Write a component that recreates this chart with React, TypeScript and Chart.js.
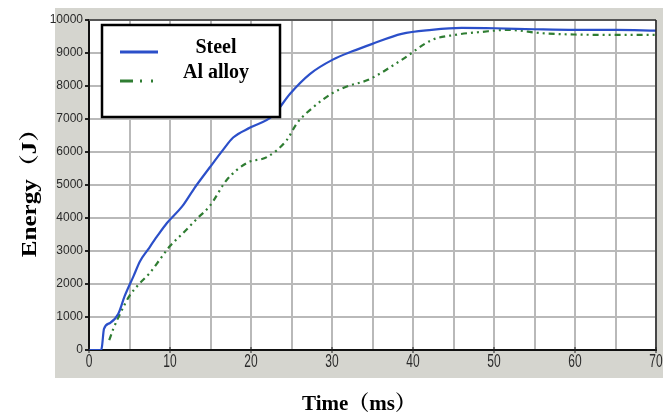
import React, { useEffect, useRef } from "react";
import { Chart, registerables } from "chart.js";

Chart.register(...registerables);

const steelTime = [0, 1.5, 1.6, 1.85, 2.6, 3.6, 4.4, 5.5, 6.3, 7.3, 8.4, 9.6, 11.5, 13, 14.9, 16.5, 17.8, 19.9, 22.7, 24.8, 27.3, 30.1, 32.5, 34.9, 38.6, 42.3, 46, 50.1, 55, 60, 65, 70];
const steelEnergy = [0, 0, 100, 640, 820, 1090, 1630, 2240, 2690, 3050, 3440, 3840, 4350, 4900, 5530, 6050, 6440, 6740, 7100, 7760, 8370, 8800, 9050, 9270, 9580, 9700, 9760, 9750, 9720, 9700, 9700, 9680];

const alTime = [2.5, 3.0, 4.0, 5.0, 6.3, 7.5, 8.8, 10, 11.6, 13.3, 14.9, 17, 19.5, 22, 24.4, 25.7, 27.7, 30.1, 32, 34.4, 38.6, 42.3, 45.2, 48.5, 51.7, 55.9, 60, 65, 70];
const alEnergy = [300, 640, 1180, 1640, 2030, 2330, 2760, 3150, 3540, 3970, 4360, 5150, 5670, 5850, 6360, 6880, 7360, 7790, 8000, 8180, 8790, 9390, 9550, 9640, 9700, 9600, 9560, 9550, 9550];

const seriesLabels = ["Steel", "Al alloy"];
const xTitle = "Time（ms）";
const yTitle = "Energy（J）";

const TICK_FONT = '"Liberation Sans Narrow", "Arial Narrow", sans-serif';
const SERIF = '"Liberation Serif", "Times New Roman", "Noto Serif CJK SC", "Noto Sans CJK SC", serif';

const legendDashes = [[], [13, 7, 2, 9, 2, 9]];

const decorPlugin = {
  id: "decor",
  beforeDraw(chart: any) {
    const { ctx, chartArea: a } = chart;
    ctx.save();
    ctx.fillStyle = "#ffffff";
    ctx.fillRect(0, 0, chart.width, chart.height);
    ctx.fillStyle = "#d5d5cf";
    ctx.fillRect(55, 8, 608, 370);
    ctx.fillStyle = "#ffffff";
    ctx.fillRect(a.left, a.top, a.right - a.left, a.bottom - a.top);
    ctx.restore();
  },
  afterDatasetsDraw(chart: any) {
    const { ctx, chartArea: a } = chart;
    ctx.save();
    ctx.strokeStyle = "#555555";
    ctx.lineWidth = 2;
    ctx.beginPath();
    ctx.moveTo(a.left, a.top);
    ctx.lineTo(a.right, a.top);
    ctx.stroke();
    ctx.strokeStyle = "#222222";
    ctx.lineWidth = 1.5;
    ctx.beginPath();
    ctx.moveTo(a.right, a.top);
    ctx.lineTo(a.right, a.bottom);
    ctx.stroke();
    ctx.restore();
  },
  afterDraw(chart: any) {
    const { ctx, chartArea: a } = chart;
    const xs = chart.scales.x;
    ctx.save();
    ctx.fillStyle = "#2a2a2a";
    ctx.font = `12px ${TICK_FONT}`;
    ctx.textAlign = "center";
    ctx.textBaseline = "middle";
    xs.ticks.forEach((t: any) => {
      if (t.value % 10 !== 0) return;
      const px = xs.getPixelForValue(t.value);
      ctx.save();
      ctx.translate(px, 362);
      ctx.scale(1, 1.6);
      ctx.fillText(String(t.value), 0, 0);
      ctx.restore();
      ctx.strokeStyle = "#222";
      ctx.lineWidth = 1;
      ctx.beginPath();
      ctx.moveTo(px, a.bottom - 3);
      ctx.lineTo(px, a.bottom + 3);
      ctx.stroke();
    });

    // legend
    const bx = 102, by = 25, bw = 178, bh = 92;
    ctx.fillStyle = "#ffffff";
    ctx.fillRect(bx, by, bw, bh);
    ctx.strokeStyle = "#000000";
    ctx.lineWidth = 2.5;
    ctx.strokeRect(bx, by, bw, bh);
    const ds = chart.data.datasets;
    const rows = [52, 81];
    const textRows = [48, 73];
    ds.forEach((d: any, i: number) => {
      ctx.strokeStyle = d.borderColor;
      ctx.lineWidth = 3;
      ctx.setLineDash(legendDashes[i]);
      ctx.beginPath();
      ctx.moveTo(120, rows[i]);
      ctx.lineTo(158, rows[i]);
      ctx.stroke();
      ctx.setLineDash([]);
      ctx.fillStyle = "#000000";
      ctx.font = `bold 20px ${SERIF}`;
      ctx.textAlign = "center";
      ctx.textBaseline = "middle";
      ctx.fillText(d.label, 216, textRows[i]);
    });

    // axis titles
    ctx.fillStyle = "#000000";
    ctx.font = `bold 21px ${SERIF}`;
    ctx.textAlign = "center";
    ctx.textBaseline = "alphabetic";
    ctx.fillText(xTitle, 359, 410);

    ctx.save();
    ctx.translate(36, 187);
    ctx.rotate(-Math.PI / 2);
    ctx.scale(1.25, 1);
    ctx.font = `bold 20px ${SERIF}`;
    ctx.textAlign = "center";
    ctx.fillText(yTitle, 0, 0);
    ctx.restore();

    ctx.restore();
  },
};

export default function App() {
  const ref = useRef<HTMLCanvasElement | null>(null);

  useEffect(() => {
    if (!ref.current) return;
    const chart = new Chart(ref.current, {
      type: "line",
      data: {
        datasets: [
          {
            label: seriesLabels[0],
            data: steelTime.map((t, i) => ({ x: t, y: steelEnergy[i] })),
            borderColor: "#2b4fc9",
            borderWidth: 2.2,
            pointRadius: 0,
            cubicInterpolationMode: "monotone",
            fill: false,
          },
          {
            label: seriesLabels[1],
            data: alTime.map((t, i) => ({ x: t, y: alEnergy[i] })),
            borderColor: "#2f7d32",
            borderWidth: 2.2,
            borderDash: [6, 4, 2, 4, 2, 4],
            pointRadius: 0,
            cubicInterpolationMode: "monotone",
            fill: false,
          },
        ],
      },
      options: {
        animation: false,
        responsive: false,
        devicePixelRatio: 1,
        layout: { padding: { left: 0, right: 14, top: 20, bottom: 0 } },
        plugins: { legend: { display: false }, title: { display: false }, tooltip: { enabled: false } },
        scales: {
          x: {
            type: "linear",
            min: 0,
            max: 70,
            ticks: { stepSize: 5, display: false },
            grid: { color: "#b9b9b9", lineWidth: 2, drawTicks: false },
            border: { color: "#111111", width: 2 },
            afterFit: (s: any) => {
              s.height = 63;
            },
          },
          y: {
            min: 0,
            max: 10000,
            ticks: {
              stepSize: 500,
              color: "#2a2a2a",
              font: { family: TICK_FONT, size: 12 },
              padding: 2,
              callback: (v: any) => (Number(v) % 1000 === 0 ? String(v) : ""),
            },
            grid: {
              color: "#b9b9b9",
              lineWidth: 2,
              tickLength: 4,
              tickColor: (c: any) => (c.tick && c.tick.value % 1000 === 0 ? "#222222" : "rgba(0,0,0,0)"),
            },
            border: { color: "#111111", width: 2 },
            afterFit: (s: any) => {
              s.width = 89;
            },
          },
        },
      } as any,
      plugins: [decorPlugin],
    });
    return () => chart.destroy();
  }, []);

  return (
    <div style={{ position: "absolute", left: 0, top: 0, width: 670, height: 413 }}>
      <canvas ref={ref} width={670} height={413} style={{ width: 670, height: 413 }} />
    </div>
  );
}
